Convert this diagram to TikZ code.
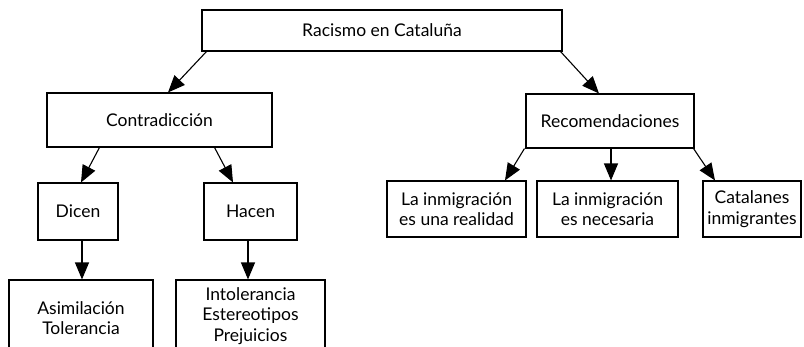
\documentclass[tikz,border=0pt]{standalone}
\usepackage{fontspec}
\setmainfont{Lato}
\usepackage{tikz}
\usetikzlibrary{arrows.meta}

\begin{document}
\begin{tikzpicture}[x=1pt, y=-1pt,
	caja/.style={draw, line width=1.1pt, align=center, inner sep=0pt,
		font=\fontsize{17.5}{20.5}\selectfont},
	flecha/.style={line width=1.1pt, -{Triangle[length=17pt, width=14pt]}}]
			\useasboundingbox (0,0) rectangle (804,346);
			\clip (0,0) rectangle (804,346);
			
			\node[caja, minimum width=360pt, minimum height=41pt] (racismo) at (382, 30.5) {Racismo en Cataluña};
			
			\node[caja, minimum width=225pt, minimum height=54pt] (contra) at (159.5, 120) {Contradicción};
			\node[caja, minimum width=168pt, minimum height=54pt] (recom) at (610, 121) {Recomendaciones};
			
			\node[caja, minimum width=80pt, minimum height=57pt] (dicen) at (78, 211.5) {Dicen};
			\node[caja, minimum width=93pt, minimum height=57pt] (hacen) at (250.5, 211.5) {Hacen};
			
			\node[caja, minimum width=144pt, minimum height=76pt] (asimil) at (81, 318) {Asimilación\\Tolerancia};
			\node[caja, minimum width=149pt, minimum height=72pt] (intol) at (250.5, 316) {Intolerancia\\Estereotipos\\Prejuicios};
			
			\node[caja, minimum width=139pt, minimum height=56pt] (realidad) at (456.5, 209) {La inmigración\\es una realidad};
			\node[caja, minimum width=141pt, minimum height=56pt] (necesaria) at (607.5, 209) {La inmigración\\es necesaria};
			\node[caja, minimum width=98pt, minimum height=56pt] (catal) at (752, 209) {Catalanes\\inmigrantes};
			
			% flechas
			\draw[flecha] ([xshift=5pt]racismo.south west) -- ([xshift=8.5pt]contra.north);
			\draw[flecha] ([xshift=-2pt]racismo.south east) -- ([xshift=-11pt]recom.north);
			
			\draw[flecha] ([xshift=53pt]contra.south west) -- ([xshift=3pt]dicen.north);
			\draw[flecha] ([xshift=-58pt]contra.south east) -- ([xshift=-17.5pt]hacen.north);
			\draw[flecha] ([xshift=4pt]dicen.south) -- ([xshift=1pt]asimil.north);
			\draw[flecha] ([xshift=-2.5pt]hacen.south) -- ([xshift=-2.5pt]intol.north);
			
			\draw[flecha] ([xshift=-1pt]recom.south west) -- ([xshift=48.5pt]realidad.north);
			\draw[flecha] ([xshift=1pt]recom.south) -- ([xshift=3.5pt]necesaria.north);
			\draw[flecha] ([xshift=-1pt]recom.south east) -- ([xshift=-37pt]catal.north);
			
		\end{tikzpicture}
\end{document}
